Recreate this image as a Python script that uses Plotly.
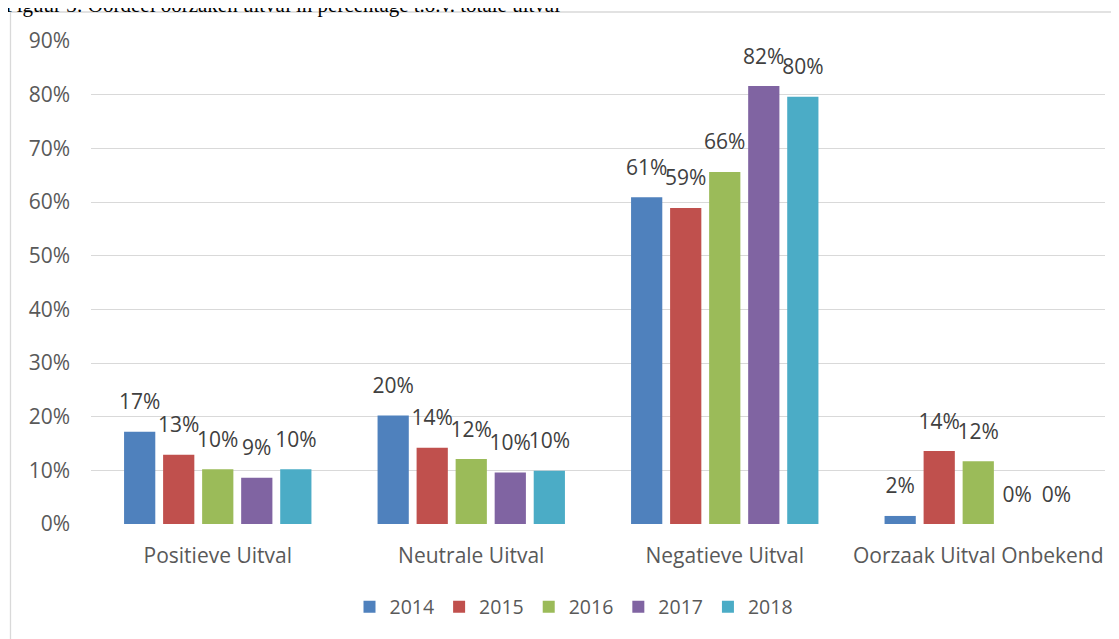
import plotly.graph_objects as go

categories = ["Positieve Uitval", "Neutrale Uitval", "Negatieve Uitval", "Oorzaak Uitval Onbekend"]
years = ["2014", "2015", "2016", "2017", "2018"]

v2014 = [0.172, 0.202, 0.609, 0.015]
v2015 = [0.129, 0.142, 0.589, 0.136]
v2016 = [0.102, 0.121, 0.656, 0.117]
v2017 = [0.086, 0.096, 0.816, 0.0]
v2018 = [0.102, 0.099, 0.796, 0.0]

colors = ["#4F81BD", "#C0504D", "#9BBB59", "#8064A2", "#4BACC6"]
tick_vals = [0, 0.1, 0.2, 0.3, 0.4, 0.5, 0.6, 0.7, 0.8, 0.9]
tick_text = ["0%", "10%", "20%", "30%", "40%", "50%", "60%", "70%", "80%", "90%"]

# page body has an 8px margin, so the figure sits 8px in from the corner
OFF = 8
W, H = 1119 - OFF, 639 - OFF
L, R, T, B = 83, 14, 33, 115
pw, ph = W - L - R, H - T - B

font = "Open Sans, Noto Sans, sans-serif"
txt_col = "#595959"


def px_x(p):
    return (p - OFF - L) / pw


def px_y(p):
    return (H - B - (p - OFF)) / ph


fig = go.Figure()
all_vals = [v2014, v2015, v2016, v2017, v2018]
for i, (yr, vals, col) in enumerate(zip(years, all_vals, colors)):
    fig.add_trace(go.Bar(
        x=categories, y=vals, name=yr,
        marker=dict(color=col, line=dict(width=0)),
        offsetgroup=str(i),
    ))
# data labels, lifted above the bars
for i, (yr, vals) in enumerate(zip(years, all_vals)):
    fig.add_trace(go.Scatter(
        x=categories, y=vals, mode="text+markers",
        marker=dict(size=26, opacity=0),
        text=[f"{round(v * 100)}%" for v in vals],
        textposition="top center",
        textfont=dict(family=font, size=21, color="#404040"),
        offsetgroup=str(i), showlegend=False, hoverinfo="skip",
        cliponaxis=False,
    ))

fig.update_layout(
    width=W, height=H,
    margin=dict(l=L, r=R, t=T, b=B),
    paper_bgcolor="white", plot_bgcolor="white",
    barmode="group", bargap=0.23, bargroupgap=0.2,
    scattermode="group", scattergap=0.23,
    font=dict(family=font, size=20, color=txt_col),
    xaxis=dict(showgrid=False, showline=False, ticks="",
               ticklabelstandoff=17,
               tickfont=dict(size=21, color=txt_col)),
    yaxis=dict(range=[0, 0.9], tickvals=tick_vals, ticktext=tick_text,
               showgrid=True, gridcolor="#D9D9D9", gridwidth=1.3,
               zeroline=False, showline=False, ticks="", ticklen=0,
               ticklabelstandoff=20,
               tickfont=dict(size=21, color=txt_col)),
    legend=dict(orientation="h", x=px_x(574), xanchor="center",
                y=px_y(607), yanchor="middle",
                font=dict(size=19.5, color=txt_col), itemwidth=30,
                traceorder="normal"),
    shapes=[dict(type="rect", xref="paper", yref="paper",
                 x0=px_x(10.5), x1=px_x(1150), y0=px_y(660), y1=px_y(12),
                 line=dict(color="#D9D9D9", width=1.3), fillcolor="rgba(0,0,0,0)",
                 layer="below")],
    annotations=[dict(text="Figuur 3: Oordeel oorzaken uitval in percentage t.o.v. totale uitval",
                      xref="paper", yref="paper", x=px_x(3), y=px_y(5),
                      xanchor="left", yanchor="middle", showarrow=False,
                      font=dict(family="Liberation Serif, serif", size=21, color="#000000"))],
)

fig.write_html("out.html")
